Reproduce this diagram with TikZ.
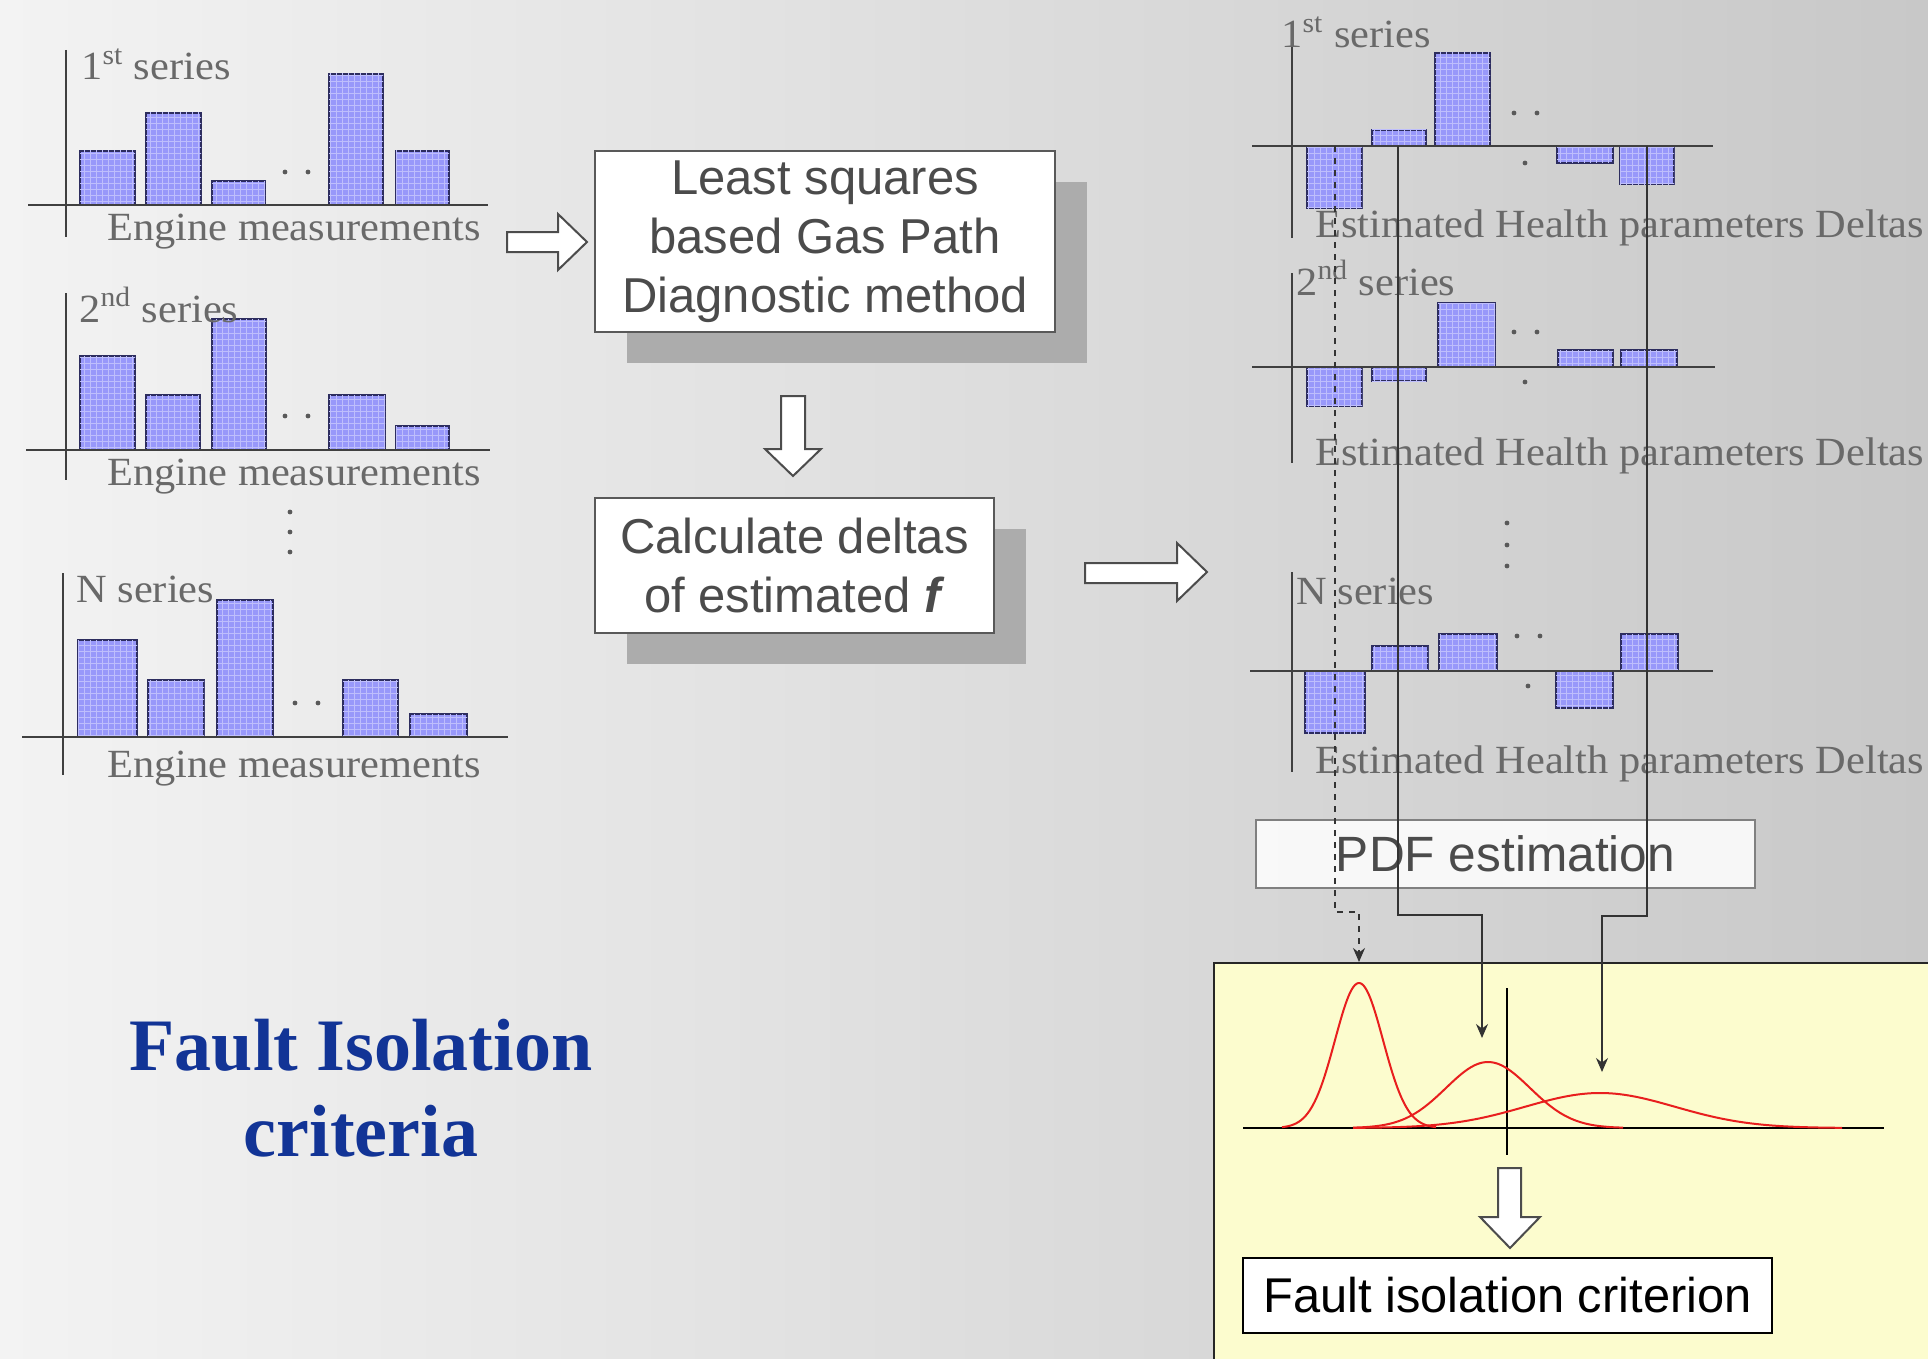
\documentclass[tikz,border=0pt]{standalone}
\usepackage{fontspec}
\usetikzlibrary{shadows,arrows.meta,patterns}
\newfontfamily\serifx[FakeStretch=1.06]{Liberation Serif}
\newfontfamily\sansx{Liberation Sans}
\newfontfamily\titlef{Liberation Serif}
\definecolor{bgL}{RGB}{243,243,243}
\definecolor{bgR}{RGB}{200,200,200}
\definecolor{barfill}{RGB}{152,152,250}
\definecolor{bargrid}{RGB}{190,190,252}
\definecolor{bardraw}{RGB}{45,45,95}
\definecolor{labgray}{RGB}{105,105,105}
\definecolor{boxtext}{RGB}{75,75,75}
\definecolor{titleblue}{RGB}{18,52,150}
\definecolor{pdfyellow}{RGB}{252,252,206}
\definecolor{curvered}{RGB}{232,30,30}
\definecolor{shadowc}{RGB}{172,172,172}
\begin{document}
\begin{tikzpicture}[x=0.5pt,y=-0.5pt,
  bar/.style={fill=barfill,draw=bardraw,line width=1pt,
    postaction={pattern=grid,pattern color=bargrid}},
  axisl/.style={draw=black!75,line width=1.2pt},
  lab/.style={font=\serifx\fontsize{20}{23}\selectfont,text=labgray,inner sep=0pt,anchor=base west},
  dotm/.style={fill=black!65},
  blockarrow/.style={fill=white,draw=black!70,line width=1pt,line join=miter},
  procbox/.style={draw=black!65,line width=1pt,fill=white,inner sep=0pt,align=center,text=boxtext,
    font=\sansx\fontsize{24.5}{29.5}\selectfont},
  conn/.style={draw=black!80,line width=0.6pt},
  tip/.style={-{Stealth[length=7pt,width=6pt]}},
  gauss/.style={draw=curvered,line width=1pt}
]
\useasboundingbox (0,0) rectangle (1928,1359);
\shade[left color=bgL,right color=bgR] (0,0) rectangle (1928,1359);

% ---------- left chart 1 ----------
\draw[bar] (80,205) rectangle (135,151);
\draw[bar] (146,205) rectangle (201,113);
\draw[bar] (212,205) rectangle (265,181);
\draw[bar] (329,205) rectangle (383,74);
\draw[bar] (396,205) rectangle (449,151);
\fill[dotm] (285,172) circle[radius=1.2pt] (308,172) circle[radius=1.2pt];
\draw[axisl] (28,205) -- (488,205);
\draw[axisl] (66,50) -- (66,237);
\node[lab] (l1t) at (81,80) {1\textsuperscript{st} series};
\node[lab] (l1x) at (107,240) {Engine measurements};

% ---------- left chart 2 ----------
\draw[bar] (80,450) rectangle (135,356);
\draw[bar] (146,450) rectangle (200,395);
\draw[bar] (212,450) rectangle (266,319);
\draw[bar] (329,450) rectangle (385,395);
\draw[bar] (396,450) rectangle (449,426);
\fill[dotm] (285,416) circle[radius=1.2pt] (308,416) circle[radius=1.2pt];
\draw[axisl] (26,450) -- (490,450);
\draw[axisl] (66,293) -- (66,480);
\node[lab] (l2t) at (79,322) {2\textsuperscript{nd} series};
\node[lab] (l2x) at (107,485) {Engine measurements};

\fill[dotm] (290,512) circle[radius=1.2pt] (290,532) circle[radius=1.2pt] (290,552) circle[radius=1.2pt];

% ---------- left chart N ----------
\draw[bar] (78,737) rectangle (137,640);
\draw[bar] (148,737) rectangle (204,680);
\draw[bar] (217,737) rectangle (273,600);
\draw[bar] (343,737) rectangle (398,680);
\draw[bar] (410,737) rectangle (467,714);
\fill[dotm] (295,703) circle[radius=1.2pt] (318,703) circle[radius=1.2pt];
\draw[axisl] (22,737) -- (508,737);
\draw[axisl] (63,573) -- (63,775);
\node[lab] (l3t) at (76,602) {N series};
\node[lab] (l3x) at (107,777) {Engine measurements};

% ---------- middle process ----------
\draw[blockarrow] (507,232) -- (558,232) -- (558,214) -- (587,242) -- (558,270) -- (558,252) -- (507,252) -- cycle;
\node[procbox,minimum width=230pt,minimum height=90.5pt,
  drop shadow={shadow xshift=16pt,shadow yshift=-15.5pt,fill=shadowc,opacity=1}]
  (lsq) at (825,241.5) {Least squares\\based Gas Path\\Diagnostic method};
\draw[blockarrow] (781,396) -- (805,396) -- (805,449) -- (821,449) -- (793,476) -- (765,449) -- (781,449) -- cycle;
\node[procbox,minimum width=199.5pt,minimum height=67.5pt,
  drop shadow={shadow xshift=16pt,shadow yshift=-15.5pt,fill=shadowc,opacity=1}]
  (calc) at (794.5,565.5) {Calculate deltas\\of estimated \textbf{\textit{f}}};
\draw[blockarrow] (1085,563) -- (1177,563) -- (1177,543) -- (1207,572) -- (1177,601) -- (1177,583) -- (1085,583) -- cycle;

% ---------- right chart 1 ----------
\draw[bar] (1307,146) rectangle (1362,208);
\draw[bar] (1372,146) rectangle (1426,130);
\draw[bar] (1435,146) rectangle (1490,53);
\draw[bar] (1557,146) rectangle (1613,163);
\draw[bar] (1620,146) rectangle (1674,184);
\fill[dotm] (1514,113) circle[radius=1.2pt] (1537,113) circle[radius=1.2pt] (1525,163) circle[radius=1.2pt];
\draw[axisl] (1252,146) -- (1713,146);
\draw[axisl] (1292,22) -- (1292,238);
\node[lab] (r1t) at (1281,48) {1\textsuperscript{st} series};
\node[lab] (r1x) at (1315,237) {Estimated Health parameters Deltas};

% ---------- right chart 2 ----------
\draw[bar] (1307,367) rectangle (1362,406);
\draw[bar] (1372,367) rectangle (1426,381);
\draw[bar] (1438,367) rectangle (1495,303);
\draw[bar] (1558,367) rectangle (1613,350);
\draw[bar] (1621,367) rectangle (1677,350);
\fill[dotm] (1514,332) circle[radius=1.2pt] (1537,332) circle[radius=1.2pt] (1525,382) circle[radius=1.2pt];
\draw[axisl] (1252,367) -- (1715,367);
\draw[axisl] (1292,273) -- (1292,463);
\node[lab] (r2t) at (1296,295) {2\textsuperscript{nd} series};
\node[lab] (r2x) at (1315,465) {Estimated Health parameters Deltas};

\fill[dotm] (1507,523) circle[radius=1.2pt] (1507,545) circle[radius=1.2pt] (1507,566) circle[radius=1.2pt];

% ---------- right chart N ----------
\draw[bar] (1305,671) rectangle (1365,733);
\draw[bar] (1372,671) rectangle (1428,646);
\draw[bar] (1439,671) rectangle (1497,634);
\draw[bar] (1556,671) rectangle (1613,708);
\draw[bar] (1621,671) rectangle (1678,634);
\fill[dotm] (1517,636) circle[radius=1.2pt] (1540,636) circle[radius=1.2pt] (1528,686) circle[radius=1.2pt];
\draw[axisl] (1250,671) -- (1713,671);
\draw[axisl] (1292,572) -- (1292,772);
\node[lab] (rnt) at (1296,604) {N series};
\node[lab] (rnx) at (1315,773) {Estimated Health parameters Deltas};

% ---------- PDF estimation ----------
\node[draw=black!50,line width=0.8pt,fill=white,fill opacity=0.85,text opacity=1,inner sep=0pt,
  minimum width=249.5pt,minimum height=34pt,text=boxtext,font=\sansx\fontsize{24.8}{28}\selectfont]
  (pdf) at (1505.5,854) {PDF estimation};

% ---------- yellow panel ----------
\node[fill=pdfyellow,inner sep=0pt,minimum width=357pt,minimum height=198pt,anchor=north west] (ybox) at (1214,963) {};
\draw[line width=1.2pt,black!85] (ybox.south west) -- (ybox.north west) -- (ybox.north east);
\draw[line width=1.1pt] (1243,1128) -- (1884,1128);
\draw[line width=1.1pt] (1507,988) -- (1507,1155);
\draw[gauss] plot[domain=1282:1436,samples=90,smooth] (\x,{1128-145*exp(-0.5*((\x-1359)/24)*((\x-1359)/24))});
\draw[gauss] plot[domain=1353:1623,samples=90,smooth] (\x,{1128-66*exp(-0.5*((\x-1488)/42)*((\x-1488)/42))});
\draw[gauss] plot[domain=1353:1842,samples=120,smooth] (\x,{1128-35*exp(-0.5*((\x-1600)/75)*((\x-1600)/75))});
\coordinate (p1) at (1359,962);
\coordinate (p2) at (1482,1038);
\coordinate (p3) at (1602,1072);
\draw[blockarrow] (1498,1168) -- (1521,1168) -- (1521,1217) -- (1540,1217) -- (1510,1248) -- (1480,1217) -- (1498,1217) -- cycle;
\node[draw=black,line width=1pt,fill=white,inner sep=0pt,minimum width=264.5pt,minimum height=37.5pt,
  font=\sansx\fontsize{24.4}{28}\selectfont] (fic) at (1507.5,1295.5) {Fault isolation criterion};

% ---------- connectors ----------
\coordinate (s1) at (1335,146);
\coordinate (s2) at (1398,146);
\coordinate (s3) at (1647,146);
\draw[conn,dashed,tip] (s1) -- (1335,912) -- (1359,912) -- (p1);
\draw[conn,tip] (s2) -- (1398,915) -- (1482,915) -- (p2);
\draw[conn,tip] (s3) -- (1647,916) -- (1602,916) -- (p3);

% ---------- title ----------
\node[align=center,text=titleblue,font=\titlef\bfseries\fontsize{37}{43}\selectfont] (title) at (361,1088)
  {Fault Isolation\\criteria};
\end{tikzpicture}
\end{document}
